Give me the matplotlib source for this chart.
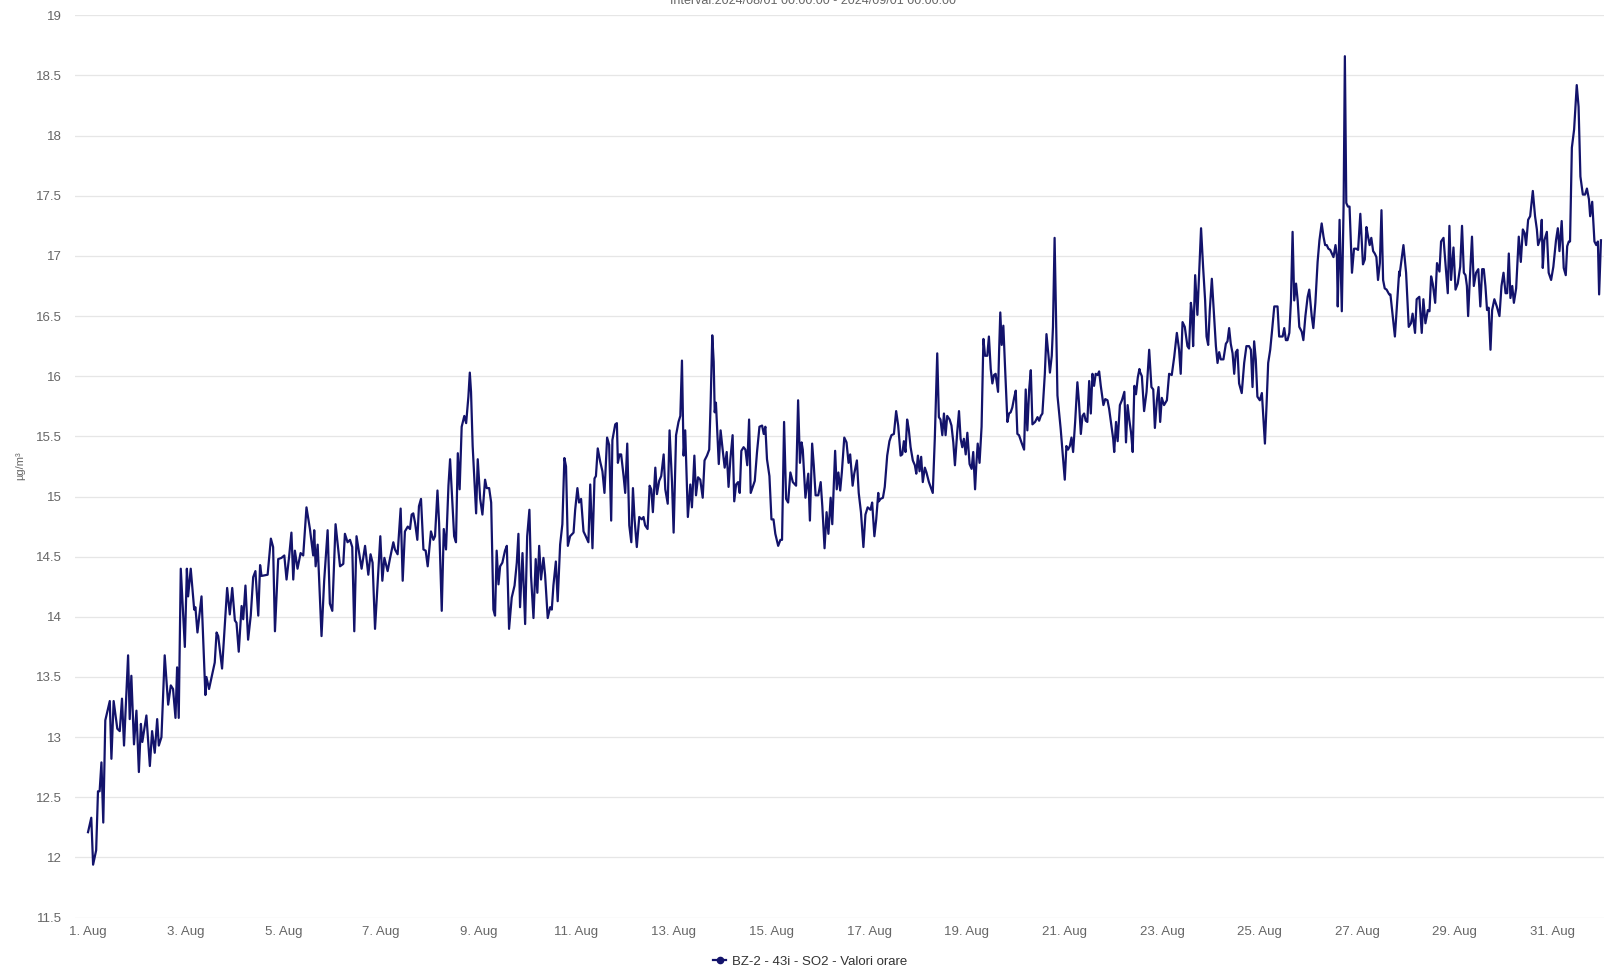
import matplotlib
matplotlib.use('Agg')
import matplotlib.pyplot as plt
import matplotlib.dates as mdates
from matplotlib.ticker import FuncFormatter, FixedLocator
import pandas as pd
import numpy as np

plt.rcParams['font.family'] = ['Liberation Sans', 'DejaVu Sans']

title = 'Interval:2024/08/01 00:00:00 - 2024/09/01 00:00:00'
series_name = 'BZ-2 - 43i - SO2 - Valori orare'
unit = 'µg/m³'
start = pd.Timestamp('2024-08-01 00:00')
tick_days = list(range(1, 32, 2))

# hours since start
hours = [
    0, 1.6, 2.5, 4, 4.9, 5.7, 6.6, 7.5, 8.5, 10.7, 11.5, 12.6, 14.4, 15.6, 16.7, 17.7, 19.7, 20.5, 21.3, 22.6,
    23.8, 25, 26, 26.7, 28.7, 30.4, 31.5, 32.8, 34, 34.8, 36.1, 37.7, 39.4, 40.7, 41.8, 43, 43.8, 44.6, 45.6, 47.6,
    48.6, 49.2, 50.5, 52.2, 52.8, 53.8, 55.8, 57.7, 58.2, 59.5, 62.3, 63.2, 64, 65.9, 68.4, 69.7, 70.9, 72.2, 73, 74.1,
    75.5, 76.3, 77.4, 78.7, 80, 81.2, 82.3, 83.7, 84.6, 85.3, 88.3, 89.9, 91, 91.9, 93.5, 95.1, 96.5, 97.6, 98.8, 100,
    100.9, 101.7, 103, 104.5, 105.8, 107.4, 109.1, 110.7, 111.2, 111.9, 112.9, 114.8, 116.1, 117.8, 118.9, 120.1, 121.7, 123.9, 125.5, 126.3,
    127.6, 128.8, 129.9, 130.9, 132,
    134.5, 136.2, 137.8, 138.9, 139.9, 141.1, 142.4, 143.7, 144.7, 145.7, 147.3, 148.4, 150.1, 150.9, 152.2, 153.7, 154.7, 155.8, 157.2, 158.3,
    159.1, 159.9, 160.8, 161.9, 162.7, 163.7, 164.9, 166, 167, 168.6, 169.8, 170.6, 171.8, 172.6, 173.9, 174.9, 176, 177.2, 178, 178.8,
    180, 180.9, 181.8, 182.7, 183.7, 185, 185.9, 187, 187.7, 188.3, 189.1, 190.8, 191.6, 192.8, 193.9, 195.2, 196, 197.2, 198.2, 199.3,
    200.1, 200.9, 201.8, 202.6, 203.7, 205, 205.9, 207, 208.3, 209.7, 210.8, 211.6, 212.4, 213.6, 214.9, 215.9, 217, 217.8, 219, 220.1,
    220.9, 221.8, 222.7, 223.9, 224.7, 226, 227.2, 228, 228.8, 230, 230.9, 232.1, 233.2, 234.2, 235, 235.9, 237, 238.7, 239.5, 240.6,
    241.4, 242.4, 243.6, 244.7, 246, 246.9, 248, 249, 249.7, 250.6, 251.8, 252.9, 253.9, 255.2, 256.2, 257.2, 257.8, 259.2, 260,
    260.5, 261.3, 262.1, 263.3, 264.1, 265.1, 266.1, 267.1, 267.9, 268.7, 269.8, 271, 272.3, 273.1, 273.9, 275.1, 276.1, 276.9, 277.7, 278.9,
    279.7, 280.8, 281.8, 283, 283.8, 285, 285.9, 287.1, 287.9, 289.1, 290.3, 291.2, 292, 292.8, 293.6, 294.9, 296.1, 296.9, 298.1, 298.9,
    299.9, 301, 302.2, 303.1, 304.3, 305.4, 306.1, 306.9, 307.6, 308.1, 308.7, 310.1, 311, 312, 313, 314, 314.9, 315.8, 316.9, 317.7,
    318.6, 319.6, 320.4, 321.2, 322.3, 323.2, 324.1, 325, 325.8, 326.8, 327.8, 328.9, 330.1, 331.4, 332.2, 333, 333.8, 335, 336, 337,
    337.9, 339.3, 340.4, 341.2, 342.2, 343.2, 344.2, 345.3, 346.5, 348.1, 349.1, 350, 350.8, 351.4, 352.7, 354.1, 354.9, 356, 356.8, 357.7,
    359, 360.2, 361, 362.1, 363.1, 364, 365.1, 365.9, 367.3, 368.1, 368.9, 369.8, 370.6, 371.8, 372.9, 373.9, 374.7, 375.9, 376.7, 378,
    378.9, 380, 381.2, 382.2, 383.3, 384.7, 385.5, 386.6, 387.5, 388.5,
    388.8, 389.6, 390.8, 391.7, 392.9, 394, 395, 396.2, 397.3, 398.3, 399.5, 400.3, 401.1, 401.9, 402.7, 403.5, 404.4, 405.5, 406.5, 407.2,
    408, 408.8, 409.6, 410.4, 411.4, 412.2, 413.4, 414.7, 415.3, 416.3, 417.5, 418.3, 419.1, 420, 420.8, 421.6, 422.4, 423.6, 424.5, 425.4,
    426.2, 427.3, 428.2, 429, 429.8, 430.6, 431.5, 432.3, 433.4, 434.4, 435.2, 436.1, 436.7, 437.4, 438.3, 439.3, 440.2, 441, 442.1, 442.9,
    443.8, 444.6, 445.4, 446.2, 447.4, 447.9, 448.5, 449.2, 450, 450.8, 452, 452.8, 453.6, 454.4, 455.3, 456.1, 456.9, 457.7, 458.9, 460.2,
    461, 461.8, 462.7, 463.5, 464.3, 465.6, 466.8, 467.6, 468.4, 469.2, 470.4, 471.2, 472.2, 472.9, 473.8, 474.4, 475.2, 476.6, 478.2, 479.4,
    480.2, 481, 481.8, 482.7, 483.5, 484.3, 485.3, 486.4, 487.2, 488.1, 488.9, 489.7, 490.5, 491.3, 492.2, 493, 493.8, 494.6, 495.4, 496.3,
    497.1, 497.9, 499.2, 500.1, 501.2, 502, 502.9, 504, 504.5, 505.4, 506.2, 507.3, 508.3, 509.5, 510.3, 511.1, 511.9, 512.8, 513.6, 514.4,
    515.2, 516.1, 516.9,
    517.1, 518.1, 519.2, 520.4, 521.7, 522.8, 523.7, 524.5, 525.5, 526.3, 527.1, 527.9, 529, 530.4, 531.5, 532.8, 534, 535.3, 536.4, 537.2,
    538.1, 539.2, 540.5, 541.3, 542.2, 542.7, 543.3, 544.3, 545.4, 546.3, 547.2, 548.2, 549.2, 549.9, 550.7, 551.5, 552.5, 553.6, 554.5, 555.3,
    556.1, 556.9, 558.2, 559.4, 560.2, 561, 561.8, 562.7, 563.5, 564.3, 565.1, 565.9, 567.2, 568.4, 569.5, 570.8, 571.7, 572.5, 573.3, 574.1,
    574.9, 576.1, 577.1, 577.7, 578.6, 579.4, 580.2, 581.2, 582, 583.2, 584, 584.8, 585.6, 586.6, 587.3, 588.1, 588.9, 589.7, 590.6, 591.4,
    592.2, 593, 593.9, 594.7, 595.5, 596.7, 597.5, 598.5, 599.6, 600.4, 601.6, 602.4, 603.4, 604.5, 605.4, 606.5, 607.4, 608.2, 609, 609.8,
    610.7, 611.5, 612.3, 613.3, 614, 614.4, 615.3, 616.4, 617.3, 617.9, 618.6, 619.4, 620.2, 621.4, 622.4, 623.5, 624.4, 625.5, 626.8, 627.7,
    628.5, 629.3, 630.1, 630.9, 631.8, 632.6, 633.4, 634.2, 635.1, 635.9, 636.7, 637.5, 638.4, 639.7, 640.3, 641.3, 642.5, 643.6, 644.6,
    644.7, 646.7, 648, 649.3, 650.4, 651.2, 652.4, 653.2, 654.5, 655.7, 656.5, 657.5, 658.7, 659.5, 660.3, 661.1, 662.3, 663.2, 664.4, 665.2,
    666.4, 667.2, 668.5, 669.3, 670.1, 671.3, 672.3, 673.4, 674.6, 675.5, 676.4, 677.2, 677.9, 678.5, 679.4, 680.4, 681.3, 682.4, 683.5, 684.5,
    685.4, 686.2, 687, 687.8, 688.6, 689.5, 690.3, 691.4, 692.6, 693.9, 694.9, 695.9, 696.9, 697.7, 698.5, 699.3, 700.2, 701, 702.1, 703.4,
    704.4, 705.4, 706.3, 707, 708, 709, 710.3, 711.4, 712.3, 712.9, 714.1, 714.7, 715.2, 716, 717.2, 718.1, 719.3, 720.4, 721.7, 722.6,
    723.4, 724.5, 725.5, 726.5, 727.2, 728, 728.6, 729.5, 730.6, 731.9, 732.8, 733.7, 734.9, 736, 736.9, 737.9, 738.5, 739.5, 740.6, 741.5,
    742.3, 742.9, 743.8,
]

so2 = [
    12.21, 12.33, 11.94, 12.06, 12.55, 12.55, 12.79, 12.29, 13.14, 13.30, 12.82, 13.30, 13.07, 13.05, 13.32, 12.93, 13.68, 13.15, 13.51, 12.94,
    13.22, 12.71, 13.11, 12.96, 13.18, 12.76, 13.05, 12.87, 13.15, 12.93, 13.00, 13.68, 13.27, 13.43, 13.40, 13.16, 13.58, 13.16, 14.40, 13.75,
    14.40, 14.17, 14.40, 14.06, 14.08, 13.87, 14.17, 13.35, 13.50, 13.40, 13.62, 13.87, 13.84, 13.57, 14.24, 14.02, 14.24, 13.97, 13.95, 13.71,
    14.09, 13.98, 14.26, 13.81, 14.01, 14.33, 14.38, 14.01, 14.43, 14.34, 14.35, 14.65, 14.58, 13.88, 14.48, 14.49, 14.51, 14.31, 14.49, 14.70,
    14.31, 14.55, 14.40, 14.53, 14.51, 14.91, 14.73, 14.51, 14.72, 14.42, 14.60, 13.84, 14.30, 14.72, 14.11, 14.05, 14.77, 14.42, 14.44, 14.69,
    14.62, 14.64, 14.58, 13.88, 14.67,
    14.40, 14.59, 14.35, 14.52, 14.45, 13.90, 14.28, 14.67, 14.30, 14.49, 14.38, 14.48, 14.62, 14.56, 14.52, 14.90, 14.30, 14.71, 14.75, 14.73,
    14.85, 14.86, 14.78, 14.64, 14.92, 14.98, 14.56, 14.55, 14.42, 14.71, 14.64, 14.67, 15.05, 14.78, 14.05, 14.73, 14.56, 15.09, 15.31, 15.06,
    14.67, 14.62, 15.36, 15.06, 15.58, 15.67, 15.61, 15.83, 16.03, 15.87, 15.42, 14.86, 15.31, 14.98, 14.85, 15.14, 15.07, 15.07, 14.95, 14.06,
    14.01, 14.55, 14.27, 14.42, 14.45, 14.55, 14.59, 13.90, 14.16, 14.26, 14.45, 14.69, 14.08, 14.53, 13.94, 14.67, 14.89, 14.34, 13.99, 14.48,
    14.20, 14.59, 14.31, 14.49, 14.35, 13.99, 14.08, 14.06, 14.26, 14.46, 14.13, 14.60, 14.77, 15.32, 15.25, 14.59, 14.67, 14.70, 14.89, 15.07,
    14.95, 14.98, 14.71, 14.67, 14.62, 15.10, 14.57, 15.15, 15.17, 15.40, 15.29, 15.21, 15.03, 15.49, 15.43, 14.80, 15.47, 15.60, 15.61,
    15.28, 15.35, 15.35, 15.17, 15.03, 15.44, 14.76, 14.62, 15.07, 14.81, 14.58, 14.83, 14.81, 14.83, 14.76, 14.73, 15.09, 15.06, 14.87, 15.24,
    15.02, 15.13, 15.17, 15.35, 15.06, 14.94, 15.55, 15.12, 14.70, 15.51, 15.62, 15.67, 16.13, 15.34, 15.55, 14.83, 15.10, 14.91, 15.34, 15.01,
    15.16, 15.14, 14.99, 15.30, 15.34, 15.39, 15.78, 16.34, 16.12, 15.70, 15.78, 15.27, 15.55, 15.39, 15.24, 15.37, 15.08, 15.31, 15.51, 14.96,
    15.10, 15.12, 15.03, 15.38, 15.41, 15.39, 15.26, 15.64, 15.03, 15.08, 15.13, 15.37, 15.58, 15.59, 15.52, 15.58, 15.31, 15.17, 14.81, 14.81,
    14.69, 14.59, 14.64, 14.64, 15.62, 14.98, 14.95, 15.20, 15.12, 15.09, 15.80, 15.28, 15.45, 15.39, 14.99, 15.19, 14.80, 15.44, 15.26, 15.01,
    15.01, 15.12, 14.92, 14.57, 14.87, 14.69, 14.99, 14.77, 15.38, 15.06, 15.20, 15.05, 15.20, 15.49, 15.45, 15.28, 15.35, 15.09, 15.19, 15.30,
    15.03, 14.87, 14.58, 14.85, 14.91, 14.89, 14.95, 14.67, 14.81, 15.03,
    14.96, 14.98, 14.99, 15.08, 15.34, 15.46, 15.51, 15.52, 15.71, 15.59, 15.34, 15.35, 15.46, 15.37, 15.64, 15.56, 15.41, 15.30, 15.26, 15.19,
    15.34, 15.21, 15.33, 15.12, 15.24, 15.20, 15.12, 15.06, 15.03, 15.48, 16.19, 15.66, 15.64, 15.51, 15.69, 15.51, 15.67, 15.64, 15.59, 15.45,
    15.26, 15.53, 15.71, 15.48, 15.41, 15.48, 15.35, 15.53, 15.27, 15.23, 15.37, 15.06, 15.26, 15.44, 15.28, 15.58, 16.31, 16.17, 16.17, 16.33,
    16.06, 15.94, 16.01, 16.02, 15.87, 16.20, 16.53, 16.26, 16.42, 16.09, 15.62, 15.69, 15.70, 15.74, 15.82, 15.88, 15.52, 15.51, 15.45, 15.39,
    15.89, 15.55, 15.89, 16.05, 15.60, 15.62, 15.66, 15.63, 15.67, 15.69, 16.02, 16.35, 16.17, 16.03, 16.17, 16.41, 17.15, 15.84, 15.56, 15.31,
    15.14, 15.42, 15.39, 15.42, 15.49, 15.37, 15.62, 15.95, 15.78, 15.52, 15.67, 15.69, 15.63, 15.62, 15.96, 15.69, 16.02, 15.92, 16.02, 16.01,
    16.04, 15.92, 15.76, 15.81, 15.80, 15.73, 15.62, 15.48, 15.37, 15.62, 15.46, 15.76, 15.80, 15.87, 15.45, 15.76, 15.64, 15.53, 15.37, 15.92,
    15.85, 15.99, 16.06,
    16.04, 16.00, 15.71, 15.87, 16.22, 15.91, 15.89, 15.57, 15.80, 15.91, 15.62, 15.82, 15.76, 15.80, 16.02, 16.01, 16.16, 16.36, 16.22, 16.02,
    16.45, 16.41, 16.25, 16.23, 16.61, 16.54, 16.25, 16.84, 16.51, 16.86, 17.23, 16.91, 16.63, 16.33, 16.26, 16.55, 16.81, 16.50, 16.25, 16.11,
    16.20, 16.14, 16.14, 16.27, 16.29, 16.40, 16.27, 16.19, 16.02, 16.20, 16.22, 15.94, 15.86, 16.11, 16.25, 16.25, 16.22, 15.91, 16.29, 16.14,
    15.83, 15.80, 15.86, 15.69, 15.44, 15.76, 16.11, 16.22, 16.36, 16.58, 16.58, 16.58, 16.33, 16.33, 16.33, 16.40, 16.30, 16.30, 16.36, 16.63,
    17.20, 16.63, 16.77, 16.63, 16.41, 16.37, 16.30, 16.50, 16.66, 16.72, 16.50, 16.40, 16.61, 16.95, 17.13, 17.27, 17.16, 17.09, 17.09, 17.06,
    17.05, 17.02, 16.99, 17.09, 16.99, 16.58, 17.30, 16.54, 17.44, 18.66, 17.44, 17.41, 17.41, 16.86, 17.06, 17.06, 17.05, 17.35, 16.93, 16.97,
    17.24, 17.16, 17.09, 17.15, 17.04, 17.02, 16.99, 16.80, 16.94, 17.38, 16.80, 16.73, 16.72, 16.68, 16.68, 16.52, 16.33, 16.61, 16.87,
    16.83, 17.09, 16.86, 16.41, 16.44, 16.52, 16.36, 16.64, 16.66, 16.36, 16.64, 16.44, 16.55, 16.54, 16.83, 16.77, 16.61, 16.94, 16.87, 17.12,
    17.15, 16.97, 16.69, 17.25, 16.80, 17.07, 16.72, 16.77, 16.91, 17.25, 16.86, 16.84, 16.75, 16.50, 16.83, 17.16, 16.75, 16.86, 16.89, 16.58,
    16.89, 16.89, 16.75, 16.55, 16.57, 16.22, 16.55, 16.64, 16.58, 16.50, 16.75, 16.86, 16.69, 16.69, 17.02, 16.65, 16.75, 16.61, 16.73, 17.16,
    16.95, 17.22, 17.19, 17.09, 17.30, 17.33, 17.54, 17.33, 17.22, 17.09, 17.15, 17.30, 16.90, 17.13, 17.20, 16.86, 16.80, 16.91, 17.13, 17.23,
    17.04, 17.29, 16.90, 16.84, 17.08, 17.12, 17.12, 17.90, 18.05, 18.42, 18.24, 17.66, 17.51, 17.51, 17.56, 17.47, 17.33, 17.45, 17.12, 17.09,
    17.12, 16.68, 17.13,
]

y_ticks = np.arange(11.5, 19.01, 0.5)

times = start + pd.to_timedelta(hours, unit='h')
tick_dates = [pd.Timestamp(2024, 8, d) for d in tick_days]

W, H = 1604, 969
fig = plt.figure(figsize=(W / 100, H / 100), dpi=100)
ax = fig.add_axes([75 / W, 1 - 917.6 / H, 1 - 75 / W, (917.6 - 15.3) / H])

line_color = '#13136b'
ax.plot(times, so2, color=line_color, lw=1.6, solid_joinstyle='round', label=series_name)

ax.set_ylim(11.5, 19)
ax.set_xlim(start - pd.Timedelta(hours=6.4), start + pd.Timedelta(hours=745.3))
ax.set_yticks(y_ticks)
ax.yaxis.set_major_formatter(FuncFormatter(lambda v, p: '%g' % v))
ax.xaxis.set_major_locator(FixedLocator(mdates.date2num(tick_dates)))
ax.xaxis.set_major_formatter(FuncFormatter(lambda v, p: '%d. Aug' % mdates.num2date(v).day))

ax.grid(axis='y', color='#e6e6e6', lw=0.9)
ax.set_axisbelow(True)
for s in ax.spines.values():
    s.set_visible(False)
ax.tick_params(axis='both', length=0, labelcolor='#666666', labelsize=9.5)
ax.tick_params(axis='y', pad=9.5)
ax.tick_params(axis='x', pad=6)

fig.text(20 / W, 1 - 466 / H, unit, rotation=90, ha='center', va='center', color='#666666', fontsize=8)
fig.text(813 / W, 1 - 4 / H, title, ha='center', va='baseline', color='#666666', fontsize=9)

fig.legend(loc='center', bbox_to_anchor=(810 / W, 1 - 961.5 / H), frameon=False,
           handlelength=1.0, handletextpad=0.4, fontsize=9.5, labelcolor='#333333',
           handles=[plt.Line2D([], [], color=line_color, lw=1.6, marker='o', markersize=4.5)],
           labels=[series_name])

fig.savefig('out.png', dpi=100)
